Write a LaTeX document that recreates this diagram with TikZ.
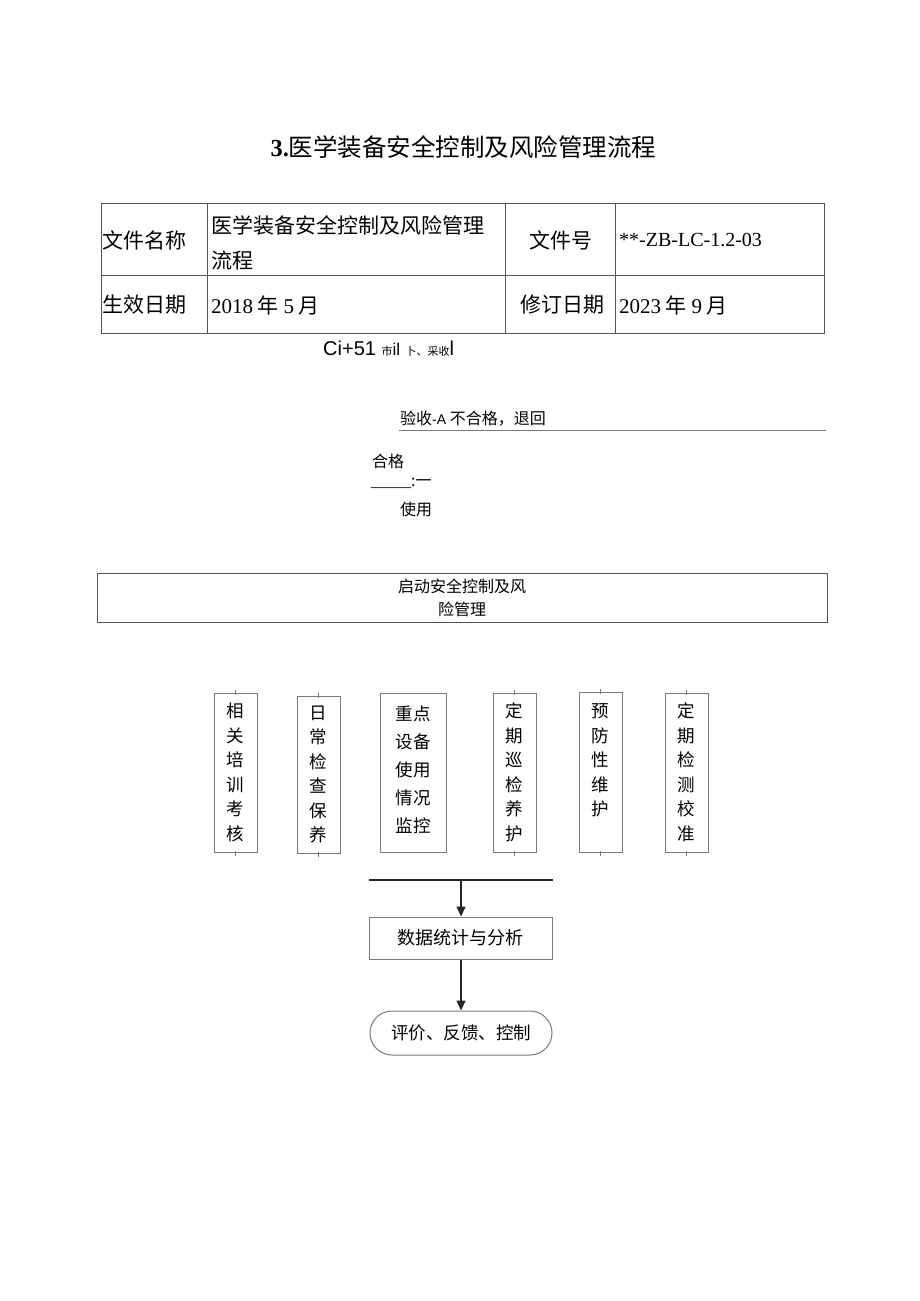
\documentclass[tikz,border=0pt]{standalone}
\usepackage{fontspec}
\setmainfont{Noto Sans CJK SC}
\newfontfamily\tms{Liberation Serif}
\newfontfamily\ars{Liberation Sans}
\usetikzlibrary{arrows.meta, positioning}
\definecolor{frame}{HTML}{555555}
\definecolor{boxline}{HTML}{7A7A7A}

\begin{document}
\begin{tikzpicture}[
    x=1pt, y=-1pt,
    cell/.style={inner sep=0pt, font=\fontsize{21}{35}\selectfont, align=left},
    note/.style={inner sep=0pt, anchor=west, font=\fontsize{16}{16}\selectfont},
    tall/.style={draw=boxline, line width=1pt, inner sep=0pt, align=center, minimum width=43pt, minimum height=159pt, font=\fontsize{17.5}{24.5}\selectfont},
    box/.style={draw=boxline, line width=1pt, inner sep=0pt, align=center, minimum width=183pt, minimum height=42pt, font=\fontsize{18}{18}\selectfont},
    ar/.style={-{Triangle[length=10pt, width=9pt]}, black!85, line width=1.3pt},
    tick/.style={boxline, line width=1pt}
  ]
    \useasboundingbox[fill=white] (0,0) rectangle (920,1301);

    % title
    \node[inner sep=0pt, font=\fontsize{24.5}{24.5}\selectfont] (title) at (463.5,147) {{\tms\bfseries 3.}医学装备安全控制及风险管理流程};

    % header table
    \draw[frame, line width=1pt] (101,203) rectangle (824,333);
    \draw[frame, line width=1pt] (101,275) -- (824,275);
    \foreach \cx in {207,505,615} \draw[frame, line width=1pt] (\cx,203) -- (\cx,333);
    \node[cell, anchor=west] (nameK) at (102,240) {文件名称};
    \node[cell, anchor=west] (nameV) at (211,243) {医学装备安全控制及风险管理\\流程};
    \node[cell] (noK) at (561,240) {文件号};
    \node[cell, anchor=west, font=\tms\fontsize{20}{20}\selectfont] (noV) at (619,240) {**-ZB-LC-1.2-03};
    \node[cell, anchor=west] (effK) at (102,305) {生效日期};
    \node[cell, anchor=west] (effV) at (211,305) {{\tms 2018} 年 {\tms 5} 月};
    \node[cell] (revK) at (562,305) {修订日期};
    \node[cell, anchor=west] (revV) at (619,305) {{\tms 2023} 年 {\tms 9} 月};

    % leftover notes
    \node[note, font=\ars\fontsize{20}{20}\selectfont] (ci) at (323,349) {Ci+51 {\rmfamily\fontsize{11}{11}\selectfont 市}{\fontsize{17}{17}\selectfont il} {\rmfamily\fontsize{11}{11}\selectfont 卜、采收}l};
    \node[note] (rej) at (400,419) {验收{\ars\fontsize{14}{14}\selectfont -A} 不合格，退回};
    \coordinate (rejEnd) at (826,430);
    \draw[boxline, line width=1pt] (rej.south west |- rejEnd) ++(-1,0) -- (rejEnd);
    \node[note] (ok) at (372,461) {合格};
    \node[note] (okline) at (371,483) {{\tms\_\_\_\_\_}:一};
    \node[note] (use) at (400,509) {使用};

    % start box
    \node[draw=frame, line width=1pt, inner sep=0pt, align=center, minimum width=730pt, minimum height=49pt, font=\fontsize{16}{23}\selectfont] (start) at (462,597.5) {启动安全控制及风\\险管理};

    % six branches
    \node[tall] (train) at (235.5,772.5) {相\\关\\培\\训\\考\\核};
    \node[tall, minimum height=157pt] (daily) at (318.5,774.5) {日\\常\\检\\查\\保\\养};
    \node[tall, minimum width=66pt, font=\fontsize{17.5}{28}\selectfont] (key) at (413,772.5) {重点\\设备\\使用\\情况\\监控\\[-22pt]~};
    \node[tall] (patrol) at (514.5,772.5) {定\\期\\巡\\检\\养\\护};
    \node[tall, minimum height=160pt] (prev) at (600.5,772) {预\\防\\性\\维\\护\\~};
    \node[tall] (calib) at (686.5,772.5) {定\\期\\检\\测\\校\\准};
    \foreach \b in {train,daily,patrol,prev,calib}{
      \draw[tick] ([yshift=3pt]\b.north) -- ([yshift=-2pt]\b.north);
      \draw[tick] ([yshift=2pt]\b.south) -- ([yshift=-3pt]\b.south);
    }

    % merge and result
    \coordinate (barL) at (369,880);
    \coordinate (barR) at (553,880);
    \coordinate (bar) at (461,880);
    \draw[black!85, line width=1.6pt] (barL) -- (barR);
    \node[box] (stat) at (460.5,938) {数据统计与分析};
    \node[box, minimum width=182pt, minimum height=44pt, rounded corners=22pt, font=\fontsize{17.5}{17.5}\selectfont] (eval) at (461,1033) {评价、反馈、控制};
    \draw[ar] (bar) -- (bar |- stat.north);
    \draw[ar] (stat.south -| bar) -- (bar |- eval.north);
  \end{tikzpicture}
\end{document}
